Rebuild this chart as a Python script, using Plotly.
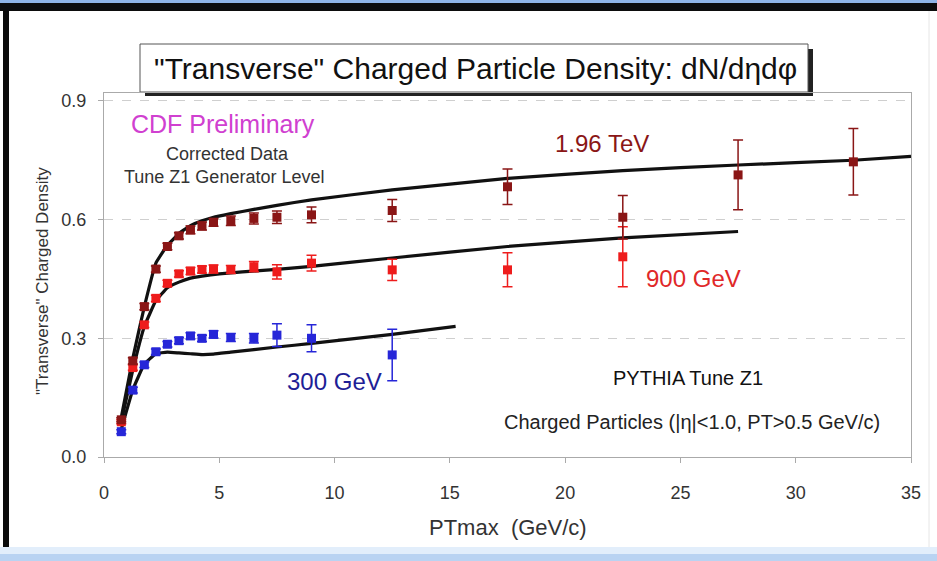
import plotly.graph_objects as go

# ---- measured data points (PTmax bin centres, density, stat. error) ----
pt_196 = [0.75, 1.25, 1.75, 2.25, 2.75, 3.25, 3.75, 4.25, 4.75, 5.5, 6.5, 7.5, 9, 12.5, 17.5, 22.5, 27.5, 32.5]
dens_196 = [0.094, 0.243, 0.380, 0.475, 0.532, 0.559, 0.574, 0.584, 0.593, 0.597, 0.603, 0.606, 0.612, 0.623, 0.683, 0.606, 0.713, 0.746]
err_196 = [0.005, 0.008, 0.008, 0.008, 0.008, 0.008, 0.010, 0.010, 0.010, 0.012, 0.014, 0.016, 0.020, 0.028, 0.045, 0.055, 0.088, 0.084]

pt_900 = [0.75, 1.25, 1.75, 2.25, 2.75, 3.25, 3.75, 4.25, 4.75, 5.5, 6.5, 7.5, 9, 12.5, 17.5, 22.5]
dens_900 = [0.089, 0.226, 0.334, 0.401, 0.439, 0.463, 0.470, 0.474, 0.475, 0.474, 0.481, 0.468, 0.490, 0.473, 0.473, 0.506]
err_900 = [0.005, 0.007, 0.007, 0.008, 0.008, 0.008, 0.009, 0.009, 0.010, 0.010, 0.013, 0.018, 0.020, 0.027, 0.043, 0.076]

pt_300 = [0.75, 1.25, 1.75, 2.25, 2.75, 3.25, 3.75, 4.25, 4.75, 5.5, 6.5, 7.5, 9, 12.5]
dens_300 = [0.064, 0.169, 0.233, 0.266, 0.285, 0.294, 0.306, 0.300, 0.310, 0.302, 0.300, 0.308, 0.300, 0.258]
err_300 = [0.005, 0.007, 0.007, 0.007, 0.007, 0.008, 0.008, 0.008, 0.009, 0.010, 0.012, 0.029, 0.034, 0.065]

# ---- PYTHIA Tune Z1 generator-level predictions ----
mc_pt_196 = [0.75, 1.25, 1.75, 2.25, 2.75, 3.25, 3.75, 4.25, 4.75, 5.5, 6.5, 7.5, 9, 12.5, 17.5, 22.5, 27.5, 32.5, 35]
mc_196 = [0.10, 0.25, 0.38, 0.49, 0.535, 0.565, 0.585, 0.597, 0.606, 0.615, 0.626, 0.636, 0.650, 0.675, 0.704, 0.724, 0.738, 0.750, 0.760]

mc_pt_900 = [0.75, 1.25, 1.75, 2.25, 2.75, 3.25, 3.75, 4.25, 5, 6, 7.5, 9, 12.5, 17.5, 22.5, 27.5]
mc_900 = [0.09, 0.22, 0.33, 0.395, 0.428, 0.442, 0.452, 0.457, 0.463, 0.468, 0.474, 0.482, 0.503, 0.532, 0.554, 0.570]

mc_pt_300 = [0.75, 1.25, 1.75, 2.25, 2.75, 3.25, 3.75, 4.25, 4.75, 5.5, 7.5, 9, 12.5, 15.25]
mc_300 = [0.07, 0.17, 0.235, 0.261, 0.265, 0.263, 0.261, 0.259, 0.260, 0.265, 0.278, 0.287, 0.310, 0.330]

x_ticks = [0, 5, 10, 15, 20, 25, 30, 35]
y_ticks = [0.0, 0.3, 0.6, 0.9]

C196 = "#8a1616"
C900 = "#ee1c1c"
C300 = "#2626d8"

W, H = 937, 561
ML, MR, MT, MB = 104, 26, 93, 104
PW, PH = W - ML - MR, H - MT - MB


def px(xp):
    return (xp - ML) / PW


def py(yp):
    return (H - MB - yp) / PH


fig = go.Figure()

for xs, ys in ((mc_pt_196, mc_196), (mc_pt_900, mc_900), (mc_pt_300, mc_300)):
    fig.add_trace(go.Scatter(x=xs, y=ys, mode="lines",
                             line=dict(color="#111111", width=3.2, shape="spline", smoothing=0.3),
                             hoverinfo="skip", showlegend=False))

for xs, ys, es, col in ((pt_300, dens_300, err_300, C300), (pt_900, dens_900, err_900, C900), (pt_196, dens_196, err_196, C196)):
    fig.add_trace(go.Scatter(
        x=xs, y=ys, mode="markers",
        marker=dict(symbol="square", size=9, color=col, line=dict(width=0)),
        error_y=dict(type="data", array=es, visible=True, color=col, thickness=1.5, width=5),
        showlegend=False))

font_main = "Liberation Sans, Arial, sans-serif"

annotations = [
    dict(x=px(223), y=py(124), text="CDF Preliminary", font=dict(size=25, color="#d040d0")),
    dict(x=px(227), y=py(154), text="Corrected Data", font=dict(size=18, color="#333333")),
    dict(x=px(224), y=py(177), text="Tune Z1 Generator Level", font=dict(size=18, color="#333333")),
    dict(x=px(602), y=py(144), text="1.96 TeV", font=dict(size=24, color=C196)),
    dict(x=px(693), y=py(278), text="900 GeV", font=dict(size=24, color="#e02828")),
    dict(x=px(334), y=py(381), text="300 GeV", font=dict(size=24, color="#1e1e96")),
    dict(x=px(688), y=py(378), text="PYTHIA Tune Z1", font=dict(size=20, color="#111111")),
    dict(x=px(692), y=py(422), text="Charged Particles (|η|<1.0, PT>0.5 GeV/c)", font=dict(size=20, color="#222222")),
    # title box text and axis titles
    dict(x=px(475), y=py(68), text="\"Transverse\" Charged Particle Density: dN/dηdφ",
         font=dict(size=30, color="#111111")),
    dict(x=px(508), y=py(527), text="PTmax\u00a0 (GeV/c)", font=dict(size=22, color="#333333")),
    dict(x=px(42), y=py(281), textangle=-90, text="\"Transverse\" Charged Density",
         font=dict(size=17, color="#333333")),
]
for a in annotations:
    a.update(xref="paper", yref="paper", showarrow=False, xanchor="center", yanchor="middle")
    a["font"]["family"] = font_main

shapes = [
    # title box with drop shadow
    dict(type="rect", xref="paper", yref="paper", x0=px(145), x1=px(813), y0=py(96), y1=py(49),
         fillcolor="#222222", line=dict(width=0), layer="below"),
    dict(type="rect", xref="paper", yref="paper", x0=px(140), x1=px(808), y0=py(92), y1=py(44),
         fillcolor="white", line=dict(color="#555555", width=1), layer="below"),
    # window frame: top and left bars, bottom gradient strip
    dict(type="rect", xref="paper", yref="paper", x0=px(0), x1=px(W), y0=py(3), y1=py(0),
         fillcolor="#8fb4e6", line=dict(width=0)),
    dict(type="rect", xref="paper", yref="paper", x0=px(0), x1=px(W), y0=py(11), y1=py(3),
         fillcolor="#0c0c0c", line=dict(width=0)),
    dict(type="rect", xref="paper", yref="paper", x0=px(3), x1=px(9), y0=py(H), y1=py(3),
         fillcolor="#0c0c0c", line=dict(width=0)),
    dict(type="rect", xref="paper", yref="paper", x0=px(0), x1=px(W), y0=py(554), y1=py(547),
         fillcolor="#e2eefb", line=dict(width=0)),
    dict(type="rect", xref="paper", yref="paper", x0=px(0), x1=px(W), y0=py(H), y1=py(554),
         fillcolor="#b9d3f2", line=dict(width=0)),
    dict(type="line", xref="paper", yref="paper", x0=px(929), x1=px(929), y0=py(547), y1=py(11),
         line=dict(color="#e6e6e6", width=1)),
]

fig.update_layout(
    width=W, height=H,
    margin=dict(l=ML, r=MR, t=MT, b=MB),
    paper_bgcolor="white", plot_bgcolor="white",
    font=dict(family=font_main, color="#333333"),
    annotations=annotations, shapes=shapes,
    showlegend=False,
)

fig.update_xaxes(range=[0, 35], tickvals=x_ticks, ticktext=[str(v) for v in x_ticks],
                 showgrid=False, zeroline=False, showline=True, linecolor="#aaaaaa", linewidth=1, mirror=True,
                 ticks="outside", ticklen=5, tickcolor="#aaaaaa",
                 tickfont=dict(size=18, color="#333333"), ticklabelstandoff=14)
fig.update_yaxes(range=[0, 0.92], tickvals=y_ticks, ticktext=[f"{v:.1f}" for v in y_ticks],
                 showgrid=True, gridcolor="#cfcfcf", griddash="dash", gridwidth=1,
                 zeroline=False, showline=True, linecolor="#aaaaaa", linewidth=1, mirror=True,
                 ticks="outside", ticklen=5, tickcolor="#aaaaaa",
                 tickfont=dict(size=18, color="#333333"), ticklabelstandoff=8)

fig.write_html("out.html")
